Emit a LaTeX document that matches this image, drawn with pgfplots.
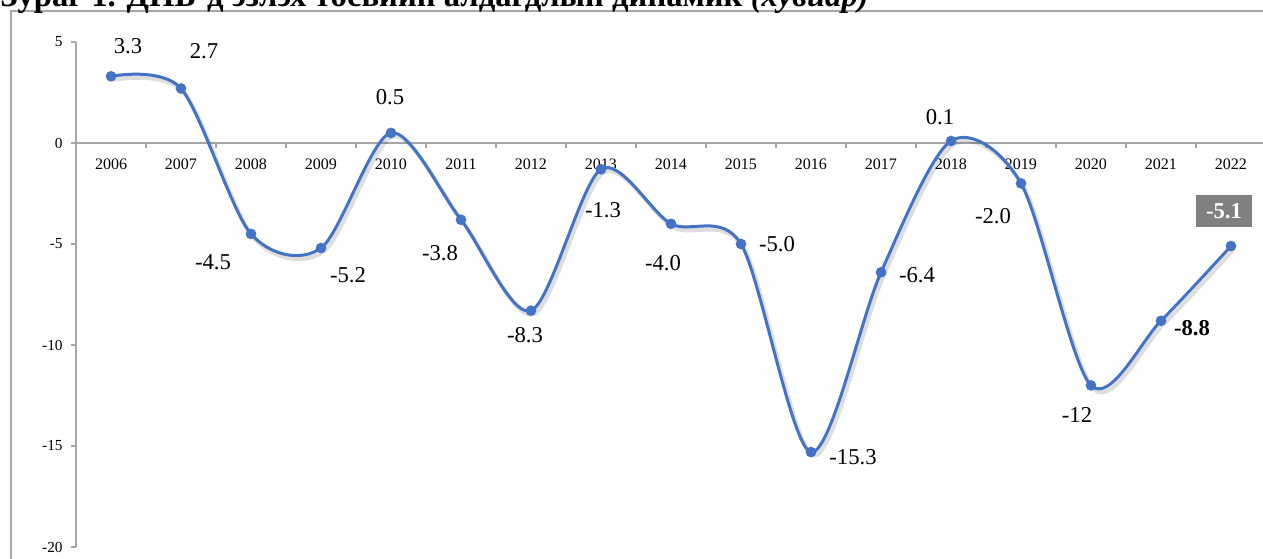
\documentclass[border=0pt]{standalone}
\usepackage{fontspec}
\setmainfont{Liberation Serif}
\usepackage{pgfplots}
\pgfplotsset{compat=1.18}
\definecolor{lineblue}{RGB}{68,114,196}
\definecolor{axisgray}{RGB}{166,166,166}
\tikzset{lbl/.style={font=\fontsize{17}{19}\selectfont, inner sep=0pt}}
\begin{document}
\begin{tikzpicture}
% outer chart frame
\draw[axisgray, line width=0.8pt] (-48.75pt,-30pt) rectangle (910pt,402pt);
\begin{axis}[
  at={(0,0)}, anchor=south west,
  scale only axis, width=892.5pt, height=378.75pt,
  xmin=2005.5, xmax=2022.5, ymin=-20, ymax=5,
  axis y line=left, axis x line=middle,
  hide obscured y ticks=false,
  axis line style={-, draw=axisgray, line width=0.8pt},
  every tick/.style={draw=axisgray, line width=0.8pt},
  tick align=outside,
  xtick={2006,2007,...,2022},
  xticklabels={2006,2007,2008,2009,2010,2011,2012,2013,2014,2015,2016,2017,2018,2019,2020,2021,2022},
  minor xtick={2005.5,2006.5,2007.5,2008.5,2009.5,2010.5,2011.5,2012.5,2013.5,2014.5,2015.5,2016.5,2017.5,2018.5,2019.5,2020.5,2021.5,2022.5},
  major x tick style={draw=none},
  minor tick length=4pt, major tick length=3.5pt,
  ytick={-20,-15,-10,-5,0,5},
  /pgf/number format/assume math mode=true,
  xticklabel style={font=\fontsize{12}{14}\selectfont, yshift=-5pt},
  yticklabel style={font=\fontsize{11.5}{13}\selectfont, xshift=-3pt},
  clip=false,
]
% soft shadow under the line
\addplot[forget plot, smooth, draw=black, opacity=0.13, line width=3.2pt, xshift=1.8pt, yshift=-2.6pt]
  coordinates {(2006,3.3)(2007,2.7)(2008,-4.5)(2009,-5.2)(2010,0.5)(2011,-3.8)(2012,-8.3)(2013,-1.3)(2014,-4.0)(2015,-5.0)(2016,-15.3)(2017,-6.4)(2018,0.1)(2019,-2.0)(2020,-12)(2021,-8.8)(2022,-5.1)};
\addplot[lineblue, line width=2.25pt, smooth, mark=*, mark size=2.8pt, mark options={fill=lineblue, draw=lineblue}]
  coordinates {(2006,3.3)(2007,2.7)(2008,-4.5)(2009,-5.2)(2010,0.5)(2011,-3.8)(2012,-8.3)(2013,-1.3)(2014,-4.0)(2015,-5.0)(2016,-15.3)(2017,-6.4)(2018,0.1)(2019,-2.0)(2020,-12)(2021,-8.8)(2022,-5.1)};
\node[lbl, xshift=12.75pt, yshift=22.5pt] at (axis cs:2006,3.3) {3.3};
\node[lbl, xshift=17.25pt, yshift=27.75pt] at (axis cs:2007,2.7) {2.7};
\node[lbl, xshift=-28.5pt, yshift=-21pt] at (axis cs:2008,-4.5) {-4.5};
\node[lbl, xshift=20.25pt, yshift=-20.25pt] at (axis cs:2009,-5.2) {-5.2};
\node[lbl, xshift=-0.75pt, yshift=27pt] at (axis cs:2010,0.5) {0.5};
\node[lbl, xshift=-15.75pt, yshift=-24.75pt] at (axis cs:2011,-3.8) {-3.8};
\node[lbl, xshift=-4.5pt, yshift=-18pt] at (axis cs:2012,-8.3) {-8.3};
\node[lbl, xshift=1.5pt, yshift=-30.75pt] at (axis cs:2013,-1.3) {-1.3};
\node[lbl, xshift=-6pt, yshift=-29.25pt] at (axis cs:2014,-4.0) {-4.0};
\node[lbl, xshift=27pt, yshift=0pt] at (axis cs:2015,-5.0) {-5.0};
\node[lbl, xshift=31.5pt, yshift=-3.75pt] at (axis cs:2016,-15.3) {-15.3};
\node[lbl, xshift=27pt, yshift=-2.25pt] at (axis cs:2017,-6.4) {-6.4};
\node[lbl, xshift=-8.25pt, yshift=18pt] at (axis cs:2018,0.1) {0.1};
\node[lbl, xshift=-21pt, yshift=-24.75pt] at (axis cs:2019,-2.0) {-2.0};
\node[lbl, xshift=-10.5pt, yshift=-22.5pt] at (axis cs:2020,-12) {-12};
\node[lbl, font=\fontsize{17}{19}\selectfont\bfseries, xshift=23.25pt, yshift=-5.25pt] at (axis cs:2021,-8.8) {-8.8};
\node[lbl, font=\fontsize{17}{19}\selectfont\bfseries, text=white, fill=black!50,
  minimum width=42pt, minimum height=24pt, xshift=-5.25pt, yshift=26.25pt] at (axis cs:2022,-5.1) {-5.1};
\end{axis}
\node[anchor=base west, inner sep=0pt, font=\fontsize{24.5}{26}\selectfont\bfseries] at (-57pt,405pt)
  {Зураг 1. ДНБ-д эзлэх төсвийн алдагдлын динамик \textit{(хувиар)}};
\pgfresetboundingbox
\path[use as bounding box] (-57pt,-8.25pt) rectangle (890.25pt,410.25pt);
\end{tikzpicture}
\end{document}
